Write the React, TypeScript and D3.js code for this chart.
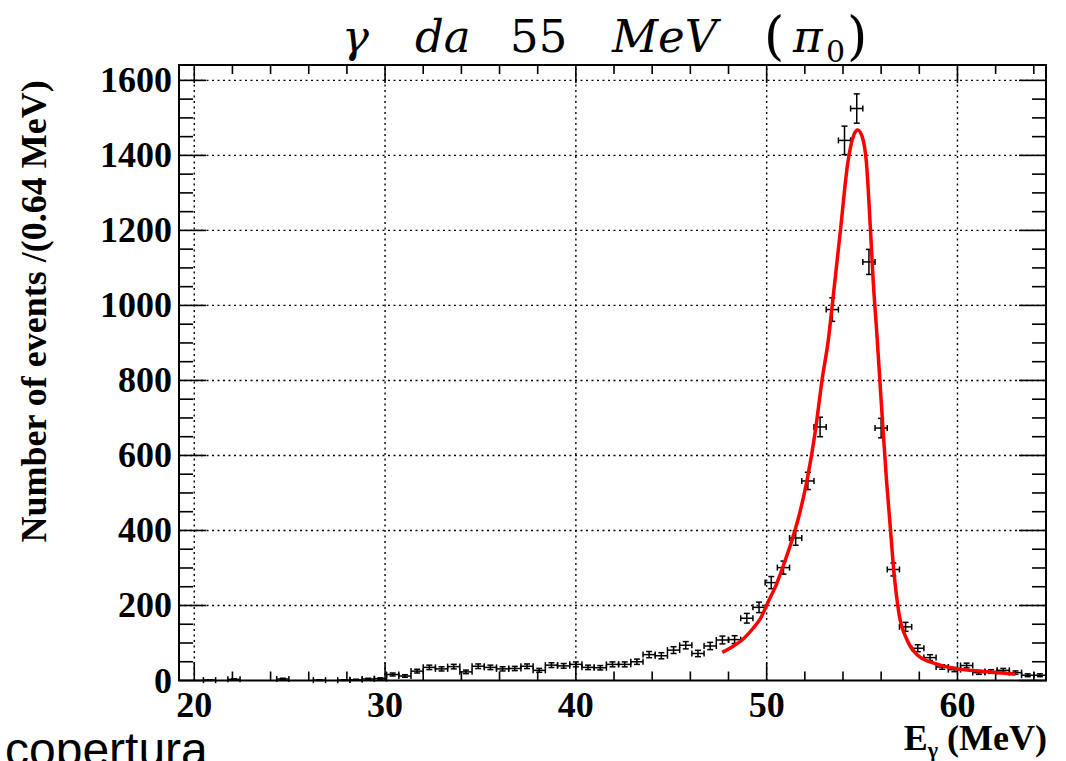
import React from "react";
import * as d3 from "d3";

// ---- data ----
const binWidth = 0.64;
const xMin = 19.2;
const xMax = 64.64;
const binCenters: number[] = d3.range(71).map((i) => +(xMin + binWidth * (i + 0.5)).toFixed(2));
// counts per bin (null = empty bin, not drawn)
const counts: (number | null)[] = [
  null, null, 1, null, 3, null, null, null, 4, null,
  null, 1, null, 1, 2, 4, 5, 16, 12, 25,
  35, 31, 37, 23, 38, 35, 31, 32, 38, 27,
  41, 39, 43, 35, 34, 43, 43, 50, 69, 66,
  81, 94, 72, 92, 108, 109, 166, 195, 261, 301,
  380, 532, 676, 989, 1440, 1525, 1116, 673, 296, 143,
  86, 61, 36, 29, 40, 21, 24, 27, 21, 14,
  14,
];
// fitted curve
const fitX: number[] = [47.67, 48.2, 48.8, 49.3, 49.67, 50.1, 50.5, 50.9, 51.3, 51.7, 52.12, 52.56, 52.9, 53.25, 53.43, 53.87, 54.25, 54.57, 54.77, 55.0, 55.23, 55.44, 55.58, 55.79, 55.93, 56.1, 56.28, 56.49, 56.66, 56.93, 57.36, 57.9, 58.76, 59.98, 61.38, 63.04];
const fitY: number[] = [75, 90, 112, 140, 165, 212, 255, 310, 370, 440, 535, 668, 800, 915, 997, 1202, 1380, 1455, 1468, 1451, 1380, 1202, 1068, 913, 802, 668, 535, 402, 295, 180, 108, 68, 46, 31, 24, 17];

const xMajorTicks = [20, 30, 40, 50, 60];
const xMinorTicks = d3.range(20, 65, 2);
const yMajorTicks = [0, 200, 400, 600, 800, 1000, 1200, 1400, 1600];
const yMinorTicks = d3.range(0, 1641, 50);
const yGridTicks = [200, 400, 600, 800, 1000, 1200, 1400, 1600];

export default function App() {
  const W = 1066, H = 761;
  const L = 179, R = 1046, T = 65, B = 680.5;
  const x = d3.scaleLinear().domain([xMin, xMax]).range([L, R]);
  const y = d3.scaleLinear().domain([0, 1641]).range([B, T]);

  const line = d3
    .line<[number, number]>()
    .x((d) => x(d[0]))
    .y((d) => y(d[1]))
    .curve(d3.curveMonotoneX);
  const fitPts: [number, number][] = fitX.map((v, i) => [v, fitY[i]]);

  const serifBold = "'Liberation Serif', 'Times New Roman', serif";
  const cap = 3;

  return (
    <svg
      width={W}
      height={H}
      style={{ position: "absolute", left: 0, top: 0, background: "#fff" }}
    >
      <rect x={0} y={0} width={W} height={H} fill="#fff" />
      {/* grid */}
      <g stroke="#000" strokeWidth={1.4} strokeDasharray="2,3.5">
        {xMajorTicks.map((t) => (
          <line key={"gx" + t} x1={x(t)} x2={x(t)} y1={B} y2={T} />
        ))}
        {yGridTicks.map((t) => (
          <line key={"gy" + t} x1={L} x2={R} y1={y(t)} y2={y(t)} />
        ))}
      </g>
      {/* ticks */}
      <g stroke="#000" strokeWidth={1.6}>
        {xMinorTicks.map((t) => {
          const len = t % 10 === 0 ? 18 : 9;
          return (
            <g key={"xt" + t}>
              <line x1={x(t)} x2={x(t)} y1={B} y2={B - len} />
              <line x1={x(t)} x2={x(t)} y1={T} y2={T + len} />
            </g>
          );
        })}
        {yMinorTicks.map((t) => {
          const len = t % 200 === 0 ? 27 : 14;
          return (
            <g key={"yt" + t}>
              <line x1={L} x2={L + len} y1={y(t)} y2={y(t)} />
              <line x1={R} x2={R - len} y1={y(t)} y2={y(t)} />
            </g>
          );
        })}
      </g>
      {/* data points */}
      <g stroke="#000" strokeWidth={1.5} fill="none">
        {binCenters.map((c, i) => {
          const v = counts[i];
          if (v === null) return null;
          const e = Math.sqrt(v);
          const x0 = x(c - binWidth / 2), x1 = x(c + binWidth / 2), xc = x(c);
          const yc = y(v), yt = y(v + e), yb = y(Math.max(0, v - e));
          return (
            <g key={"p" + i}>
              <line x1={x0} x2={x1} y1={yc} y2={yc} />
              <line x1={x0} x2={x0} y1={yc - cap} y2={yc + cap} />
              <line x1={x1} x2={x1} y1={yc - cap} y2={yc + cap} />
              <line x1={xc} x2={xc} y1={yt} y2={yb} />
              <line x1={xc - cap} x2={xc + cap} y1={yt} y2={yt} />
              <line x1={xc - cap} x2={xc + cap} y1={yb} y2={yb} />
            </g>
          );
        })}
      </g>
      {/* fit curve */}
      <path d={line(fitPts) || ""} fill="none" stroke="#ff0000" strokeWidth={3.5} />
      {/* frame */}
      <rect x={L} y={T} width={R - L} height={B - T} fill="none" stroke="#000" strokeWidth={2} />
      {/* tick labels */}
      <g fontFamily={serifBold} fontWeight="bold" fontSize={36} fill="#000">
        {yMajorTicks.map((t) => (
          <text key={"yl" + t} x={L - 7} y={y(t)} textAnchor="end" dominantBaseline="central">
            {t}
          </text>
        ))}
        {xMajorTicks.map((t) => (
          <text key={"xl" + t} x={x(t)} y={717} textAnchor="middle">
            {t}
          </text>
        ))}
      </g>
      {/* axis titles */}
      <text
        transform={`translate(46, ${(75 + 548) / 2}) rotate(-90)`}
        textAnchor="middle"
        fontFamily={serifBold}
        fontWeight="bold"
        fontSize={36}
      >
        Number of events /(0.64 MeV)
      </text>
      <text x={1047} y={750} textAnchor="end" fontFamily={serifBold} fontWeight="bold" fontSize={36}>
        E
        <tspan fontSize={22} dy={7}>γ</tspan>
        <tspan dy={-7}> (MeV)</tspan>
      </text>
      {/* title */}
      <g fontFamily="'DejaVu Serif', serif" fontSize={45} fill="#000">
        <text x={342} y={52} fontStyle="italic">γ</text>
        <text x={415} y={52} fontStyle="italic">da</text>
        <text x={510} y={52}>55</text>
        <text x={612} y={52} fontStyle="italic">MeV</text>
        <text x={764} y={54} fontSize={52}>(</text>
        <text x={793} y={52} fontStyle="italic">π</text>
        <text x={826} y={62} fontSize={30}>0</text>
        <text x={847} y={54} fontSize={52}>)</text>
      </g>
      {/* stray caption */}
      <text x={5} y={766} fontFamily="'Liberation Sans', Arial, sans-serif" fontSize={48} fill="#000">
        copertura
      </text>
    </svg>
  );
}
